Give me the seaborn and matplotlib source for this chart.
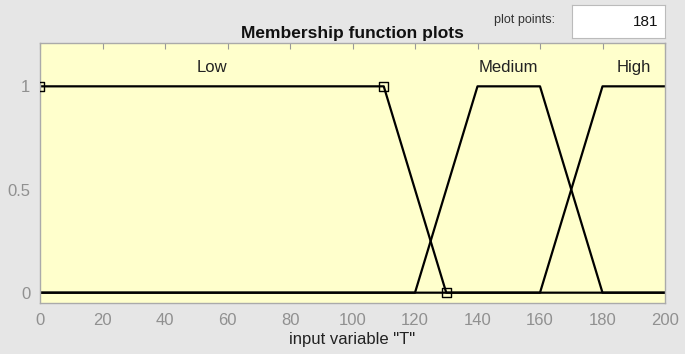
import pandas as pd
import matplotlib.pyplot as plt
import seaborn as sns

# membership functions of input variable "T" (trapezoids)
mf_names = ["Low", "Medium", "High"]
mf_x = [[0, 0, 110, 130, 200], [0, 120, 140, 160, 180, 200], [0, 160, 180, 200]]
mf_y = [[1, 1, 1, 0, 0], [0, 0, 1, 1, 0, 0], [0, 0, 1, 1]]
label_x = [55, 150, 190]
selected_x = [0, 110, 130]
selected_y = [1, 1, 0]
x_ticks = [0, 20, 40, 60, 80, 100, 120, 140, 160, 180, 200]
y_ticks = [0, 0.5, 1]

sns.set_style("white")
plt.rcParams["font.family"] = ["Liberation Sans", "DejaVu Sans"]

fig = plt.figure(figsize=(6.85, 3.54), dpi=100, facecolor="#e6e6e6")
ax = fig.add_axes([40 / 685, 51 / 354, 625 / 685, 260 / 354])
ax.set_facecolor("#ffffcc")

rows = []
for name, xs, ys in zip(mf_names, mf_x, mf_y):
    for x, y in zip(xs, ys):
        rows.append({"mf": name, "x": x, "y": y})
df = pd.DataFrame(rows)

for name in mf_names:
    sub = df[df["mf"] == name]
    sns.lineplot(data=sub, x="x", y="y", sort=False, color="black", lw=1.6,
                 estimator=None, ax=ax)

sns.scatterplot(x=selected_x, y=selected_y, marker="s", s=40, facecolor="none",
                edgecolor="black", linewidth=1.0, ax=ax, zorder=5)

for name, lx in zip(mf_names, label_x):
    ax.text(lx, 1.09, name, ha="center", va="center", fontsize=12, color="#222222")

ax.set_xlim(0, 200)
ax.set_ylim(-0.05, 1.21)
ax.set_xticks(x_ticks)
ax.set_yticks(y_ticks)
ax.set_yticklabels(["0", "0.5", "1"])
ax.tick_params(direction="in", length=4, color="#999999", labelcolor="#909090",
               labelsize=12, top=True, right=False, pad=7)
for s in ax.spines.values():
    s.set_color("#aaaaaa")
    s.set_linewidth(1.0)
ax.set_xlabel('input variable "T"', fontsize=12, color="#222222", labelpad=3)
ax.set_ylabel("")

fig.text(0.515, 0.905, "Membership function plots", ha="center", va="center",
         fontsize=12.5, fontweight="bold", color="#111111")
fig.text(0.765, 0.943, "plot points:", ha="center", va="center", fontsize=9,
         color="#333333")
box = fig.add_axes([572 / 685, 316 / 354, 93 / 685, 33 / 354])
box.set_xticks([])
box.set_yticks([])
box.set_facecolor("white")
for s in box.spines.values():
    s.set_color("#bbbbbb")
box.text(0.93, 0.5, "181", ha="right", va="center", fontsize=11,
         color="#111111", transform=box.transAxes)

fig.savefig("out.png", dpi=100, facecolor=fig.get_facecolor())
